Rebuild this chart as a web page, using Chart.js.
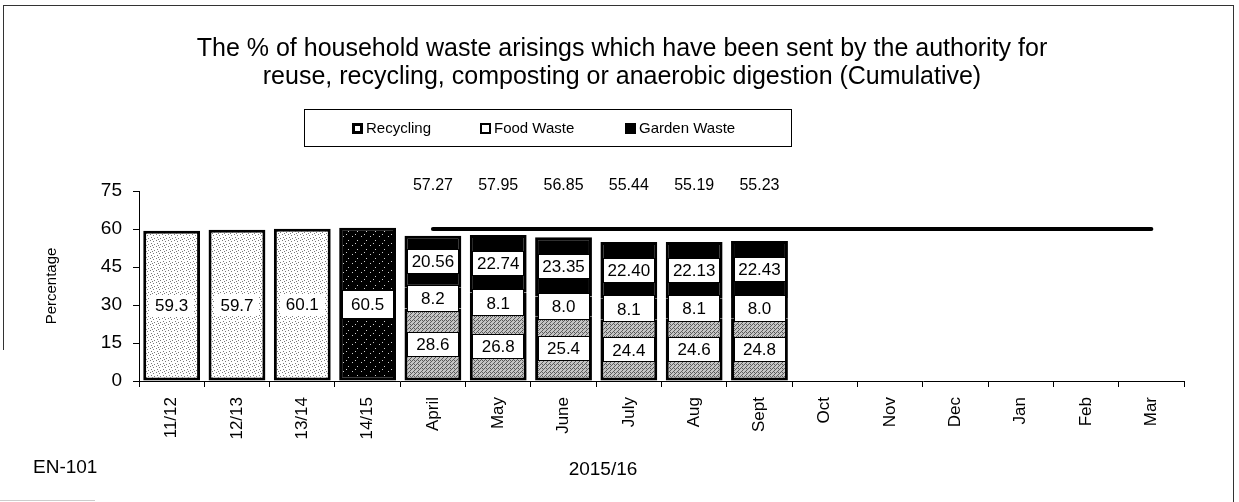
<!DOCTYPE html>
<html>
<head>
<meta charset="utf-8">
<script src="https://cdn.jsdelivr.net/npm/chart.js@4.4.1/dist/chart.umd.min.js"></script>
<style>
  html, body { margin: 0; padding: 0; background: #fff; }
  body { width: 1239px; height: 502px; position: relative; overflow: hidden; font-family: 'Liberation Sans', Arial, sans-serif; color: #000; }
  #wrap { position: absolute; left: 0; top: 0; width: 1239px; height: 502px; }
  .abs { position: absolute; }
  #title { left: 5px; width: 1234px; top: 33px; text-align: center; font-size: 25px; line-height: 28px; }
  #legend { left: 304px; top: 109px; width: 486px; height: 36px; border: 1px solid #000; }
  .li { position: absolute; top: 9px; font-size: 15px; line-height: 18px; white-space: nowrap; }
  .mk { display: inline-block; width: 11px; height: 11px; box-sizing: border-box; vertical-align: -1px; margin-right: 3px; }
  #en { left: 33px; top: 456px; font-size: 19px; }
  #yr { left: 603px; top: 458px; font-size: 19px; transform: translateX(-50%); }
  .fr { position: absolute; background: #333; }
</style>
</head>
<body>
<div id="wrap"><canvas id="c" width="1239" height="502"></canvas></div>
<div class="fr" style="left:3px;top:5px;width:1231px;height:1px;"></div>
<div class="fr" style="left:3px;top:5px;width:1px;height:345px;"></div>
<div class="fr" style="left:1233px;top:5px;width:1px;height:497px;"></div>
<div class="fr" style="left:0px;top:500px;width:95px;height:1px;background:#ccc;"></div>
<div id="title" class="abs">The % of household waste arisings which have been sent by the authority for<br>reuse, recycling, composting or anaerobic digestion (Cumulative)</div>
<div id="legend" class="abs">
  <div class="li" style="left:47px;"><span class="mk" style="border:3px solid #000;background:#fff;"></span>Recycling</div>
  <div class="li" style="left:175px;"><span class="mk" style="border:2px solid #000;background:#fff;"></span>Food Waste</div>
  <div class="li" style="left:320px;"><span class="mk" style="background:#000;"></span>Garden Waste</div>
</div>
<div id="en" class="abs">EN-101</div>
<div id="yr" class="abs">2015/16</div>
<script>
// ---- data ----
const categories = ['11/12','12/13','13/14','14/15','April','May','June','July','Aug','Sept','Oct','Nov','Dec','Jan','Feb','Mar'];
const annualTotals = [59.3, 59.7, 60.1, 60.5, null, null, null, null, null, null, null, null, null, null, null, null];
const recycling = [null, null, null, null, 28.6, 26.8, 25.4, 24.4, 24.6, 24.8, null, null, null, null, null, null];
const foodWaste = [null, null, null, null, 8.2, 8.1, 8.0, 8.1, 8.1, 8.0, null, null, null, null, null, null];
const gardenWaste = [null, null, null, null, 20.56, 22.74, 23.35, 22.40, 22.13, 22.43, null, null, null, null, null, null];
const monthTotals = [null, null, null, null, 57.27, 57.95, 56.85, 55.44, 55.19, 55.23, null, null, null, null, null, null];
const target = [null, null, null, null, 60, 60, 60, 60, 60, 60, 60, 60, 60, 60, 60, 60];
const yTicks = [0, 15, 30, 45, 60, 75];

// ---- fill patterns ----
function makePattern(size, bg, fg, pts) {
  const c = document.createElement('canvas');
  c.width = size; c.height = size;
  const g = c.getContext('2d');
  g.fillStyle = bg; g.fillRect(0, 0, size, size);
  g.fillStyle = fg;
  pts.forEach(p => g.fillRect(p[0], p[1], 1, 1));
  return document.getElementById('c').getContext('2d').createPattern(c, 'repeat');
}
const lightDots = makePattern(6, '#ffffff', '#7a7a7a', [[0,0],[3,1],[1,3],[4,4],[2,5]]);
const darkDots = makePattern(9, '#000000', '#d0d0d0', [[1,2],[6,6],[4,0]]);
const greyHatch = makePattern(4, '#c4c4c4', '#5a5a5a', [[0,0],[1,3],[2,2],[3,1],[2,0]]);

// ---- plugins ----
const FONT = "'Liberation Sans', Arial, sans-serif";
const boxLabels = {
  id: 'boxLabels',
  afterDatasetsDraw(chart) {
    const ctx = chart.ctx;
    chart.data.datasets.forEach((ds, di) => {
      if (!ds.labelDigits && ds.labelDigits !== 0) return;
      const meta = chart.getDatasetMeta(di);
      if (meta.hidden) return;
      meta.data.forEach((bar, i) => {
        const v = ds.data[i];
        if (v == null) return;
        const p = bar.getProps(['x', 'y', 'base', 'width'], true);
        const cy = (p.y + p.base) / 2;
        const w = ds.labelBoxW ? ds.labelBoxW[i] : p.width - 5;
        const h = ds.labelBoxH ? ds.labelBoxH[i] : 25;
        const bordered = ds.labelBorder ? ds.labelBorder[i] : true;
        ctx.save();
        ctx.fillStyle = '#fff';
        ctx.fillRect(Math.round(p.x - w / 2), Math.round(cy - h / 2), Math.round(w), h);
        if (bordered) {
          ctx.strokeStyle = '#000';
          ctx.lineWidth = 1;
          ctx.strokeRect(Math.round(p.x - w / 2) + 0.5, Math.round(cy - h / 2) + 0.5, Math.round(w) - 1, h - 1);
        }
        ctx.fillStyle = '#000';
        ctx.font = '17px ' + FONT;
        ctx.textAlign = 'center';
        ctx.textBaseline = 'middle';
        ctx.fillText(v.toFixed(ds.labelDigits), p.x, cy + 1);
        ctx.restore();
      });
    });
  }
};
const totalLabels = {
  id: 'totalLabels',
  afterDraw(chart) {
    const ctx = chart.ctx;
    const xs = chart.scales.x;
    ctx.save();
    ctx.fillStyle = '#000';
    ctx.font = '16px ' + FONT;
    ctx.textAlign = 'center';
    ctx.textBaseline = 'middle';
    monthTotals.forEach((t, i) => {
      if (t == null) return;
      ctx.fillText(t.toFixed(2), xs.getPixelForValue(i), chart.chartArea.top - 5);
    });
    ctx.restore();
  }
};

Chart.defaults.font.family = FONT;
Chart.defaults.color = '#000';

new Chart(document.getElementById('c'), {
  type: 'bar',
  data: {
    labels: categories,
    datasets: [
      {
        label: 'Annual',
        data: annualTotals,
        stack: 's',
        backgroundColor: [lightDots, lightDots, lightDots, darkDots],
        borderColor: '#000',
        borderWidth: 3,
        borderSkipped: false,
        labelDigits: 1,
        labelBoxW: [45, 45, 45, 52],
        labelBoxH: [22, 22, 22, 29],
        labelBorder: [false, false, false, true],
        order: 2
      },
      {
        label: 'Recycling',
        data: recycling,
        stack: 's',
        backgroundColor: greyHatch,
        borderColor: '#000',
        borderWidth: { left: 3, right: 3, bottom: 3, top: 0 },
        borderSkipped: false,
        labelDigits: 1,
        order: 2
      },
      {
        label: 'Food Waste',
        data: foodWaste,
        stack: 's',
        backgroundColor: '#ffffff',
        borderColor: '#000',
        borderWidth: { left: 3, right: 3, bottom: 0, top: 0 },
        borderSkipped: false,
        labelDigits: 1,
        labelBoxH: new Array(16).fill(27),
        order: 2
      },
      {
        label: 'Garden Waste',
        data: gardenWaste,
        stack: 's',
        backgroundColor: '#000000',
        borderColor: '#000',
        borderWidth: 3,
        borderSkipped: false,
        labelDigits: 2,
        order: 2
      },
      {
        type: 'line',
        label: 'Target',
        data: target,
        stack: 'target',
        borderColor: '#000',
        borderWidth: 4,
        borderCapStyle: 'round',
        pointRadius: 0,
        fill: false,
        order: 0
      }
    ]
  },
  options: {
    responsive: false,
    animation: false,
    events: [],
    layout: { padding: { top: 191, right: 55, bottom: 0, left: 0 } },
    plugins: {
      legend: { display: false },
      title: { display: false },
      tooltip: { enabled: false }
    },
    datasets: { bar: { categoryPercentage: 0.87, barPercentage: 1.0 } },
    scales: {
      x: {
        stacked: true,
        offset: true,
        grid: { display: true, drawOnChartArea: false, drawTicks: true, tickLength: 6, color: '#000', offset: true },
        border: { display: true, color: '#000', width: 1 },
        ticks: { font: { size: 17 }, color: '#000', minRotation: 90, maxRotation: 90, padding: 10, autoSkip: false },
        afterFit(s) { s.height = 121; }
      },
      y: {
        stacked: true,
        min: 0,
        max: 75,
        afterBuildTicks(s) { s.ticks = yTicks.map(v => ({ value: v })); },
        grid: { display: true, drawOnChartArea: false, drawTicks: true, tickLength: 6, color: '#000' },
        border: { display: true, color: '#000', width: 1 },
        ticks: { font: { size: 19 }, color: '#000', padding: 11 },
        title: { display: true, text: 'Percentage', font: { size: 15 }, color: '#000', padding: { top: 43, bottom: 0 } },
        afterFit(s) { s.width = 139; }
      }
    }
  },
  plugins: [boxLabels, totalLabels]
});
</script>
</body>
</html>
